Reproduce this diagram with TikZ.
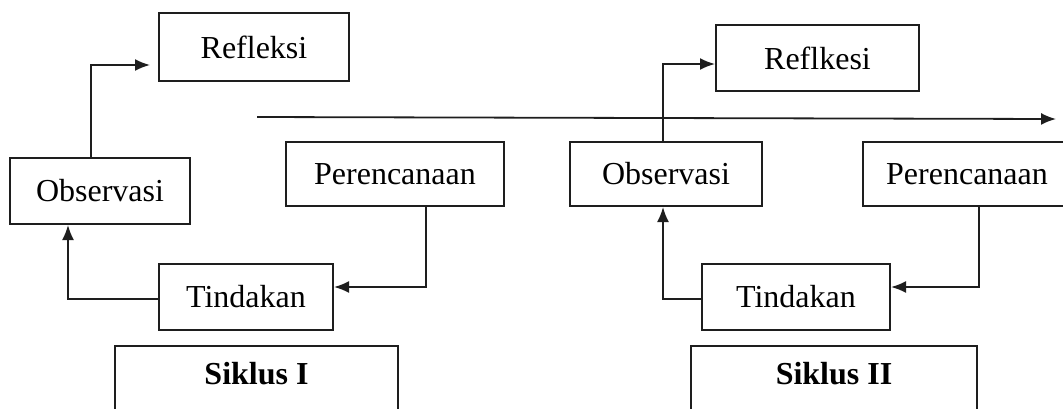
\documentclass[tikz,border=0pt]{standalone}
\usepackage{fontspec}
\setmainfont{Liberation Serif}
\usepackage{xcolor}
\usepackage{tikz}
\usetikzlibrary{arrows.meta, positioning, calc}
\definecolor{siklusline}{RGB}{30, 30, 30}

\begin{document}
\begin{tikzpicture}[x=0.5pt, y=-0.5pt,
    stage/.style={draw=siklusline, line width=1pt, minimum height=33pt, inner sep=0pt,
                  font=\fontsize{16}{19}\selectfont},
    flow/.style={draw=siklusline, line width=0.9pt, -{Latex[length=7.5pt,width=6pt]}},
    siklus/.style={draw=siklusline, line width=1pt, anchor=north, inner ysep=3pt,
                   text height=16pt, text depth=45pt, font=\fontsize{16}{19}\selectfont\bfseries}]
    \clip (0,0) rectangle (1063,408);

    % siklus I
    \node[stage, minimum width=95pt, minimum height=34pt] (reflA) at (254,47) {Refleksi};
    \node[stage, minimum width=90pt] (obsA) at (100,191) {Observasi};
    \node[stage, minimum width=109pt, minimum height=32pt] (renA) at (395,174) {Perencanaan};
    \node[stage, minimum width=87pt] (tinA) at (246,296.5) {Tindakan};
    \node[siklus, minimum width=141.5pt] (sikA) at (256.5,345) {Siklus I};

    % siklus II
    \node[stage, minimum width=101.5pt] (reflB) at (817.5,58) {Reflkesi};
    \node[stage, minimum width=96pt, minimum height=32pt] (obsB) at (666,174) {Observasi};
    \node[stage, minimum width=104pt, minimum height=32pt] (renB) at (967,174) {Perencanaan};
    \node[stage, minimum width=94pt] (tinB) at (796,296.5) {Tindakan};
    \node[siklus, minimum width=143pt] (sikB) at (834,345) {Siklus II};

    % time line
    \coordinate (timeStart) at (257,117);
    \coordinate (timeEnd) at (1056,119);
    \draw[flow] (timeStart) -- (timeEnd);

    % cycle arrows
    \draw[flow, shorten >=4pt] ($(obsA.north)+(-9,0)$) |- ($(reflA.west)+(0,18)$);
    \draw[flow] ($(renA.south)+(31,0)$) |- ($(tinA.east)+(0,-9.5)$);
    \draw[flow] ($(tinA.west)+(0,2.5)$) -| ($(obsA.south)+(-32,0)$);

    \draw[flow] ($(obsB.north)+(-3,0)$) |- ($(reflB.west)+(0,6)$);
    \draw[flow] ($(renB.south)+(12,0)$) |- ($(tinB.east)+(0,-9.5)$);
    \draw[flow] ($(tinB.west)+(0,2.5)$) -| ($(obsB.south)+(-3,0)$);
\end{tikzpicture}
\end{document}
